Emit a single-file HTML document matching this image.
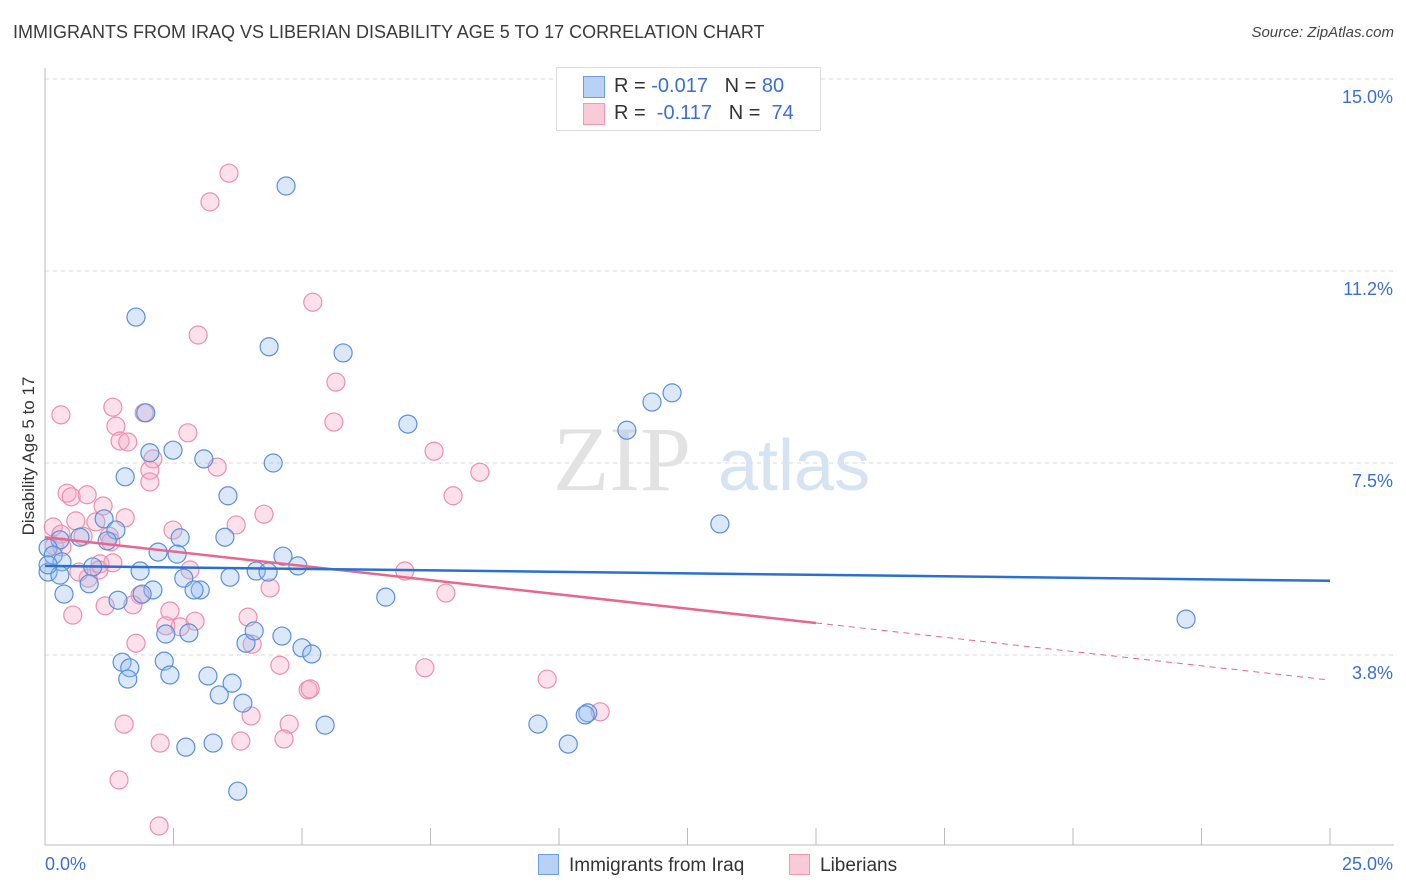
<!DOCTYPE html>
<html><head><meta charset="utf-8"><style>
body{margin:0;background:#fff;font-family:"Liberation Sans",sans-serif;}
#wrap{position:relative;width:1406px;height:892px;overflow:hidden;}
.t{position:absolute;white-space:nowrap;}
</style></head><body>
<div id="wrap">
<div class="t" style="left:13px;top:22px;font-size:18px;color:#3a3a3a;">IMMIGRANTS FROM IRAQ VS LIBERIAN DISABILITY AGE 5 TO 17 CORRELATION CHART</div>
<div class="t" style="right:12px;top:24px;font-size:15px;color:#444;font-style:italic;">Source: ZipAtlas.com</div>
<svg id="svg" width="1406" height="892" style="position:absolute;left:0;top:0"></svg>
</div>
<script>
const xTicks=[0,2.5,5,7.5,10,12.5,15,17.5,20,22.5,25];
const yGrid=[15,11.25,7.5,3.75];
const yTickLabels=["15.0%","11.2%","7.5%","3.8%"];
const xTickLabels=["0.0%","25.0%"];
const iraqX=[4.69,1.77,4.36,5.80,12.20,11.81,7.06,11.32,1.96,2.49,2.04,3.09,4.44,1.56,3.56,13.13,1.15,1.38,3.50,2.63,0.68,0.29,1.21,0.06,0.16,2.20,2.57,4.63,4.92,0.33,0.93,1.85,4.11,4.34,0.06,3.60,2.70,0.29,0.86,3.02,2.10,2.90,1.89,0.37,1.42,6.63,2.35,2.80,3.91,4.07,4.61,5.00,5.19,1.50,2.32,1.65,1.61,2.43,3.17,3.64,3.39,3.85,5.45,9.59,10.56,10.51,2.74,3.27,10.18,3.75,22.20,0.06];
const iraqY=[12.91,10.35,9.77,9.65,8.87,8.69,8.26,8.14,8.48,7.75,7.70,7.58,7.50,7.23,6.86,6.31,6.41,6.19,6.05,6.04,6.05,6.00,5.98,5.84,5.70,5.76,5.72,5.68,5.49,5.57,5.47,5.39,5.39,5.37,5.37,5.27,5.25,5.31,5.14,5.02,5.02,5.02,4.94,4.94,4.82,4.88,4.16,4.18,3.98,4.22,4.12,3.89,3.77,3.61,3.63,3.50,3.28,3.36,3.34,3.20,2.97,2.81,2.38,2.40,2.62,2.58,1.95,2.03,2.01,1.09,4.45,5.51];
const libX=[3.58,3.21,5.21,2.98,5.66,0.31,1.32,1.93,5.62,1.38,1.46,1.61,2.78,7.57,8.46,2.10,2.04,2.04,3.35,0.43,0.51,0.82,1.13,0.16,0.31,0.60,0.99,1.56,3.72,4.26,2.49,0.18,1.25,1.28,0.33,7.94,0.74,1.07,1.05,0.84,1.32,0.66,7.00,2.82,4.38,7.80,1.85,0.54,1.17,1.71,2.43,2.92,3.95,2.35,2.63,1.77,4.03,4.57,7.39,5.12,5.16,9.77,10.80,4.01,1.54,4.75,4.65,2.24,3.81,1.44,2.22];
const libY=[13.16,12.60,10.64,10.00,9.08,8.44,8.59,8.48,8.30,8.22,7.93,7.91,8.09,7.73,7.32,7.58,7.36,7.13,7.42,6.91,6.84,6.88,6.66,6.25,6.11,6.37,6.35,6.43,6.29,6.50,6.19,5.88,6.07,5.96,5.86,6.86,6.07,5.53,5.41,5.25,5.55,5.37,5.39,5.41,5.06,4.96,4.92,4.53,4.71,4.73,4.61,4.41,4.49,4.32,4.30,3.98,3.96,3.55,3.50,3.07,3.09,3.28,2.64,2.56,2.40,2.40,2.11,2.03,2.07,1.31,0.41];
const iraqTrend=[5.49,5.20];   // y at x=0, x=25
const libTrend=[6.05,3.26];    // y at x=0, x=25
const libSolidEnd=15.0;

const svg=document.getElementById('svg');
const NS='http://www.w3.org/2000/svg';
const X=v=>45+v*51.4;
const Y=v=>847-v*51.2;
function mk(tag,attrs){const e=document.createElementNS(NS,tag);for(const k in attrs)e.setAttribute(k,attrs[k]);svg.appendChild(e);return e;}
yGrid.forEach((g,i)=>{
  const l=mk('line',{x1:45,x2:1394,y1:Y(g),y2:Y(g),stroke:'#d8d8d8','stroke-dasharray':'4,4'});
  
  
  const t=mk('text',{x:1393,y:Y(g)+24,'text-anchor':'end','font-size':'18',fill:'#3a6fd1','font-family':'Liberation Sans, sans-serif'});
  t.textContent=yTickLabels[i];
  
  
});
let a=mk('line',{x1:45,x2:45,y1:68,y2:845,stroke:'#bbb'});


a=mk('line',{x1:45,x2:1394,y1:845,y2:845,stroke:'#bbb'});


xTicks.forEach(v=>{
  const l=mk('line',{x1:X(v),x2:X(v),y1:828,y2:845,stroke:'#bbb'});
  
  
});
[[0,'start',45],[25,'end',1393]].forEach((p,i)=>{
  const t=mk('text',{x:p[2],y:870,'text-anchor':p[1],'font-size':'18',fill:'#3a6fd1','font-family':'Liberation Sans, sans-serif'});
  t.textContent=xTickLabels[i];
  
  
});
let yl=mk('text',{x:0,y:0,transform:'translate(34,456) rotate(-90)','text-anchor':'middle','font-size':'17',fill:'#333','font-family':'Liberation Sans, sans-serif'});
yl.textContent='Disability Age 5 to 17';


let wm=mk('text',{x:553,y:490,'font-size':'92',fill:'#e2e2e2','font-family':'Liberation Serif, serif'});
wm.textContent='ZIP';


let wm2=mk('text',{x:718,y:490,'font-size':'72',fill:'#d6e3f3','font-family':'Liberation Sans, sans-serif'});
wm2.textContent='atlas';


libX.forEach((x,i)=>{
  const c=mk('circle',{cx:X(x),cy:Y(libY[i]),r:9,fill:'rgba(248,170,195,0.35)',stroke:'#ec8fae','stroke-width':1.2});
  
  
});
iraqX.forEach((x,i)=>{
  const c=mk('circle',{cx:X(x),cy:Y(iraqY[i]),r:9,fill:'rgba(150,190,240,0.35)',stroke:'#5b8fdc','stroke-width':1.2});
  
  
});
const ly=x=>libTrend[0]+(libTrend[1]-libTrend[0])*x/25;
let tl=mk('line',{x1:X(0),y1:Y(ly(0)),x2:X(libSolidEnd),y2:Y(ly(libSolidEnd)),stroke:'#e9678f','stroke-width':2.5});


tl=mk('line',{x1:X(libSolidEnd),y1:Y(ly(libSolidEnd)),x2:X(25),y2:Y(ly(25)),stroke:'#e9678f','stroke-width':1,'stroke-dasharray':'6,5'});


tl=mk('line',{x1:X(0),y1:Y(iraqTrend[0]),x2:X(25),y2:Y(iraqTrend[1]),stroke:'#2a6fd4','stroke-width':2.5});


</script>
<div class="t" style="left:556px;top:67px;width:263px;height:62px;border:1px solid #ddd;background:#fff;font-size:20px;color:#333;">
  <div style="position:absolute;left:26px;top:8px;width:20px;height:20px;background:#b8d2f5;border:1px solid #6d9de0;"></div>
  <div class="t" style="left:57px;top:7px;">R = <span style="color:#3a6fd1">-0.017</span>&nbsp;&nbsp;&nbsp;N = <span style="color:#3a6fd1">80</span></div>
  <div style="position:absolute;left:26px;top:35px;width:20px;height:20px;background:#fbcad8;border:1px solid #ec9ab5;"></div>
  <div class="t" style="left:57px;top:34px;">R = &nbsp;<span style="color:#3a6fd1">-0.117</span>&nbsp;&nbsp;&nbsp;N = &nbsp;<span style="color:#3a6fd1">74</span></div>
</div>
<div class="t" style="left:538px;top:854px;font-size:19px;color:#333;">
  <span style="display:inline-block;width:19px;height:19px;background:#b8d2f5;border:1px solid #6d9de0;vertical-align:-4px;margin-right:10px;"></span>Immigrants from Iraq</div>
<div class="t" style="left:789px;top:854px;font-size:19px;color:#333;">
  <span style="display:inline-block;width:19px;height:19px;background:#fbcad8;border:1px solid #ec9ab5;vertical-align:-4px;margin-right:10px;"></span>Liberians</div>
</body></html>
